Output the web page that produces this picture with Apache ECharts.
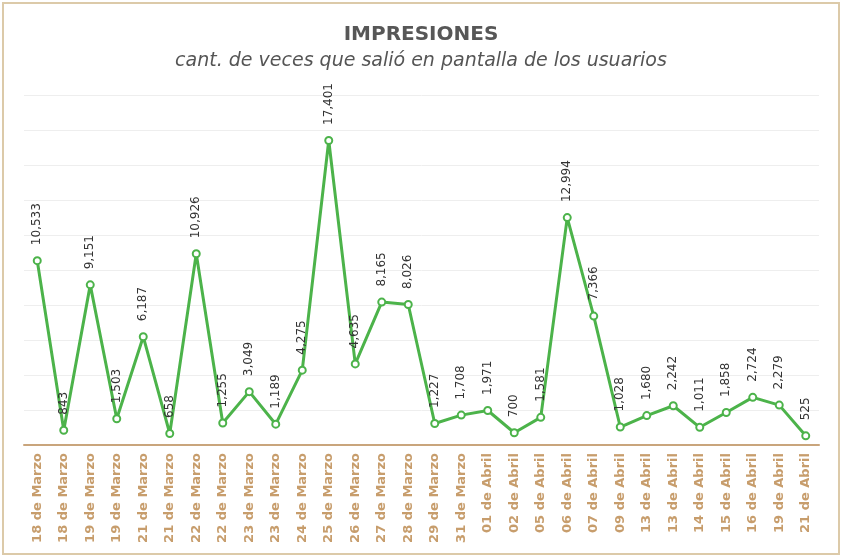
<!DOCTYPE html>
<html>
<head>
<meta charset="utf-8">
<script src="https://cdn.jsdelivr.net/npm/echarts@6/dist/echarts.min.js"></script>
<style>
  html, body { margin: 0; padding: 0; background: #fff; }
  #frame {
    position: absolute; left: 2px; top: 2px;
    width: 834px; height: 549px;
    border: 2px solid #dccaa9;
  }
  #chart { position: absolute; left: 0; top: 0; width: 842px; height: 557px; }
</style>
</head>
<body>
<div id="frame"></div>
<div id="chart"></div>
<script>
// Dates of each measurement
const categories = [
  '18 de Marzo', '18 de Marzo', '19 de Marzo', '19 de Marzo', '21 de Marzo',
  '21 de Marzo', '22 de Marzo', '22 de Marzo', '23 de Marzo', '23 de Marzo',
  '24 de Marzo', '25 de Marzo', '26 de Marzo', '27 de Marzo', '28 de Marzo',
  '29 de Marzo', '31 de Marzo', '01 de Abril', '02 de Abril', '05 de Abril',
  '06 de Abril', '07 de Abril', '09 de Abril', '13 de Abril', '13 de Abril',
  '14 de Abril', '15 de Abril', '16 de Abril', '19 de Abril', '21 de Abril'
];

// Impressions per date
const impresiones = [
  10533, 843, 9151, 1503, 6187, 658, 10926, 1255, 3049, 1189,
  4275, 17401, 4635, 8165, 8026, 1227, 1708, 1971, 700, 1581,
  12994, 7366, 1028, 1680, 2242, 1011, 1858, 2724, 2279, 525
];

const yMin = 0;
const yMax = 20000;
const yStep = 2000;

const font = '"DejaVu Sans", "Open Sans", sans-serif';

const chart = echarts.init(document.getElementById('chart'), null, { renderer: 'canvas' });

chart.setOption({
  animation: false,
  backgroundColor: 'transparent',
  title: {
    text: 'IMPRESIONES',
    subtext: 'cant. de veces que salió en pantalla de los usuarios',
    left: 'center',
    top: 20,
    itemGap: 7,
    textStyle: {
      fontFamily: font,
      fontSize: 20,
      fontWeight: 'bold',
      color: '#575757'
    },
    subtextStyle: {
      fontFamily: font,
      fontSize: 19,
      fontStyle: 'italic',
      color: '#555555'
    }
  },
  grid: {
    left: 24,
    right: 23,
    top: 95,
    bottom: 112,
    containLabel: false
  },
  xAxis: {
    type: 'category',
    data: categories,
    boundaryGap: true,
    axisLine: { lineStyle: { color: '#c9a57c', width: 2 } },
    axisTick: { show: false },
    axisLabel: {
      interval: 0,
      rotate: 90,
      margin: 8,
      fontFamily: font,
      fontSize: 13,
      fontWeight: 'bold',
      color: '#c79d6c'
    }
  },
  yAxis: {
    type: 'value',
    min: yMin,
    max: yMax,
    interval: yStep,
    axisLine: { show: false },
    axisTick: { show: false },
    axisLabel: { show: false },
    splitLine: { lineStyle: { color: '#eeeeee', width: 1 } }
  },
  series: [{
    type: 'line',
    data: impresiones,
    symbol: 'emptyCircle',
    symbolSize: 7,
    lineStyle: { color: '#4cb34a', width: 3 },
    itemStyle: { color: '#4cb34a', borderWidth: 1.5 },
    label: {
      show: true,
      position: 'top',
      distance: 11,
      rotate: 90,
      align: 'left',
      verticalAlign: 'middle',
      fontFamily: font,
      fontSize: 12,
      color: '#333333',
      formatter: p => p.value.toLocaleString('en-US')
    }
  }]
});
</script>
</body>
</html>
